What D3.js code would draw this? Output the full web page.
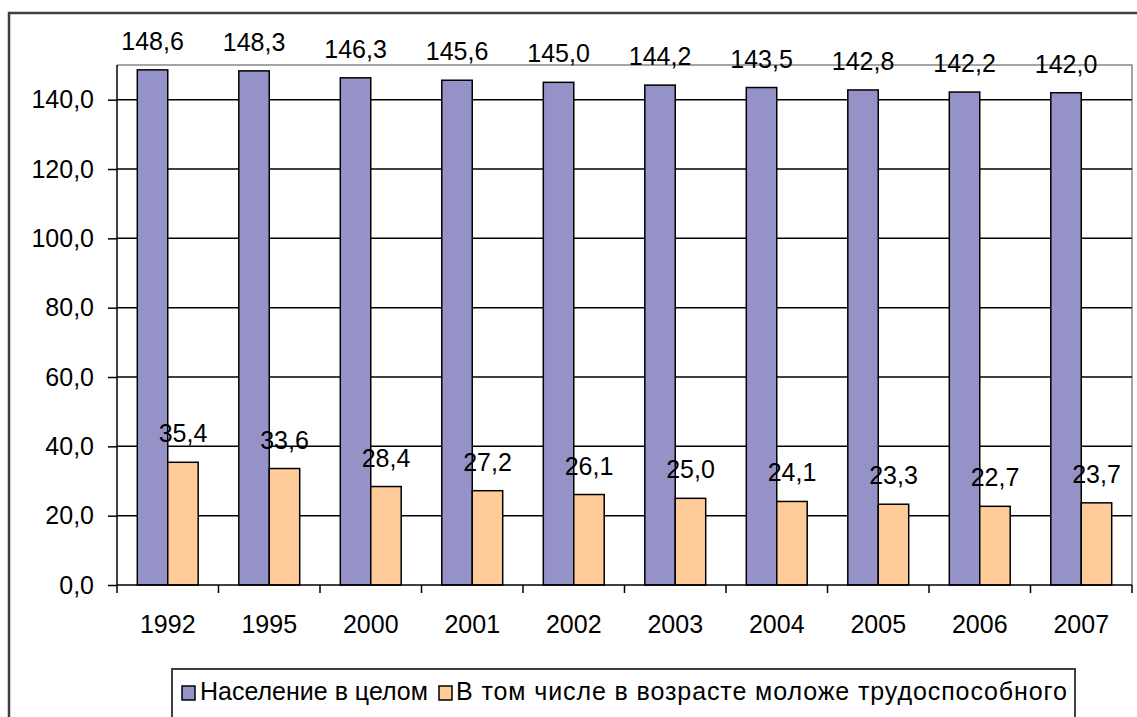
<!DOCTYPE html>
<html><head><meta charset="utf-8">
<script src="https://cdn.jsdelivr.net/npm/d3@7"></script>
<style>body{margin:0;background:#fff}svg{display:block}text{font-family:"Liberation Sans",Arial,sans-serif;fill:#000}</style>
</head><body>
<svg id="c" width="1137" height="717"></svg>
<script>
const years = ["1992","1995","2000","2001","2002","2003","2004","2005","2006","2007"];
const total = [148.6,148.3,146.3,145.6,145.0,144.2,143.5,142.8,142.2,142.0];
const young = [35.4,33.6,28.4,27.2,26.1,25.0,24.1,23.3,22.7,23.7];
const seriesNames = ["Население в целом","В том числе в возрасте моложе трудоспособного"];
const seriesColors = ["#9592C8","#FFCC99"];
const yTicks = [0,20,40,60,80,100,120,140];

const svg = d3.select("#c");
const fmt = v => d3.format(".1f")(v).replace(".", ",");
const FS = 25;

// outer chart border
svg.append("rect").attr("x",9).attr("y",13).attr("width",1140).attr("height",720)
  .attr("fill","none").attr("stroke","#404040").attr("stroke-width",2.5);

const L=117, R=1132, T=65, B=585;
const x = d3.scaleBand().domain(years).range([L,R]).paddingInner(0.4).paddingOuter(0.2);
const xs = d3.scaleBand().domain([0,1]).range([0,x.bandwidth()]);
const y = d3.scaleLinear().domain([0,150]).range([B,T]);

// plot border (top/right gray)
svg.append("path").attr("d",`M${L},${T}H${R}V${B}`).attr("fill","none").attr("stroke","#888").attr("stroke-width",1.5);

// gridlines
svg.append("g").selectAll("line").data(yTicks.filter(d=>d>0)).join("line")
  .attr("x1",L).attr("x2",R).attr("y1",d=>y(d)).attr("y2",d=>y(d))
  .attr("stroke","#000").attr("stroke-width",1.5);

// bars
const data = years.map((yr,i)=>({yr, vals:[total[i],young[i]]}));
const g = svg.append("g");
data.forEach(d=>{
  d.vals.forEach((v,s)=>{
    g.append("rect").attr("x",x(d.yr)+xs(s)).attr("y",y(v))
      .attr("width",xs.bandwidth()).attr("height",y(0)-y(v))
      .attr("fill",seriesColors[s]).attr("stroke","#000").attr("stroke-width",1.5);
  });
});

// y axis
const ya = svg.append("g").attr("transform",`translate(${L},0)`)
  .call(d3.axisLeft(y).tickValues(yTicks).tickFormat(fmt).tickSize(9).tickPadding(14));
ya.select(".domain").attr("stroke","#000").attr("stroke-width",1.5).attr("d",`M0,${T}V${B}`);
ya.selectAll(".tick line").attr("stroke","#000").attr("stroke-width",1.5);
ya.selectAll("text").style("font-size",FS+"px").style("font-family","Liberation Sans, Arial").attr("fill","#000");

// x axis
const xa = svg.append("g").attr("transform",`translate(0,${B})`)
  .call(d3.axisBottom(x).tickSize(0).tickPadding(30));
xa.select(".domain").attr("stroke","#000").attr("stroke-width",1.5).attr("d",`M${L},0H${R}`);
xa.selectAll("text").style("font-size",FS+"px").style("font-family","Liberation Sans, Arial").attr("fill","#000");
// category separator ticks
const sep = d3.range(years.length+1).map(i=> i<years.length ? x(years[i]) - x.step()*x.paddingOuter() : R);
xa.selectAll(".sep").data(sep).join("line").attr("class","sep")
  .attr("x1",d=>d).attr("x2",d=>d).attr("y1",0).attr("y2",8)
  .attr("stroke","#000").attr("stroke-width",1.5);

// value labels
const lab = svg.append("g").attr("text-anchor","middle").style("font-size",FS+"px");
data.forEach(d=>{
  d.vals.forEach((v,s)=>{
    lab.append("text").attr("x",x(d.yr)+xs(s)+xs.bandwidth()/2).attr("y",y(v)-20).text(fmt(v));
  });
});

// legend
const lg = svg.append("g");
lg.append("rect").attr("x",172).attr("y",669).attr("width",903).attr("height",60)
  .attr("fill","#fff").attr("stroke","#404040").attr("stroke-width",2);
const items = [{x:182, tx:200, ls:0},{x:439, tx:456, ls:0.9}];
items.forEach((it,i)=>{
  lg.append("rect").attr("x",it.x).attr("y",686).attr("width",13).attr("height",14)
    .attr("fill",seriesColors[i]).attr("stroke","#000").attr("stroke-width",1.5);
  lg.append("text").attr("x",it.tx).attr("y",700).style("font-size",FS+"px")
    .style("letter-spacing",it.ls+"px").text(seriesNames[i]);
});
</script>
</body></html>
